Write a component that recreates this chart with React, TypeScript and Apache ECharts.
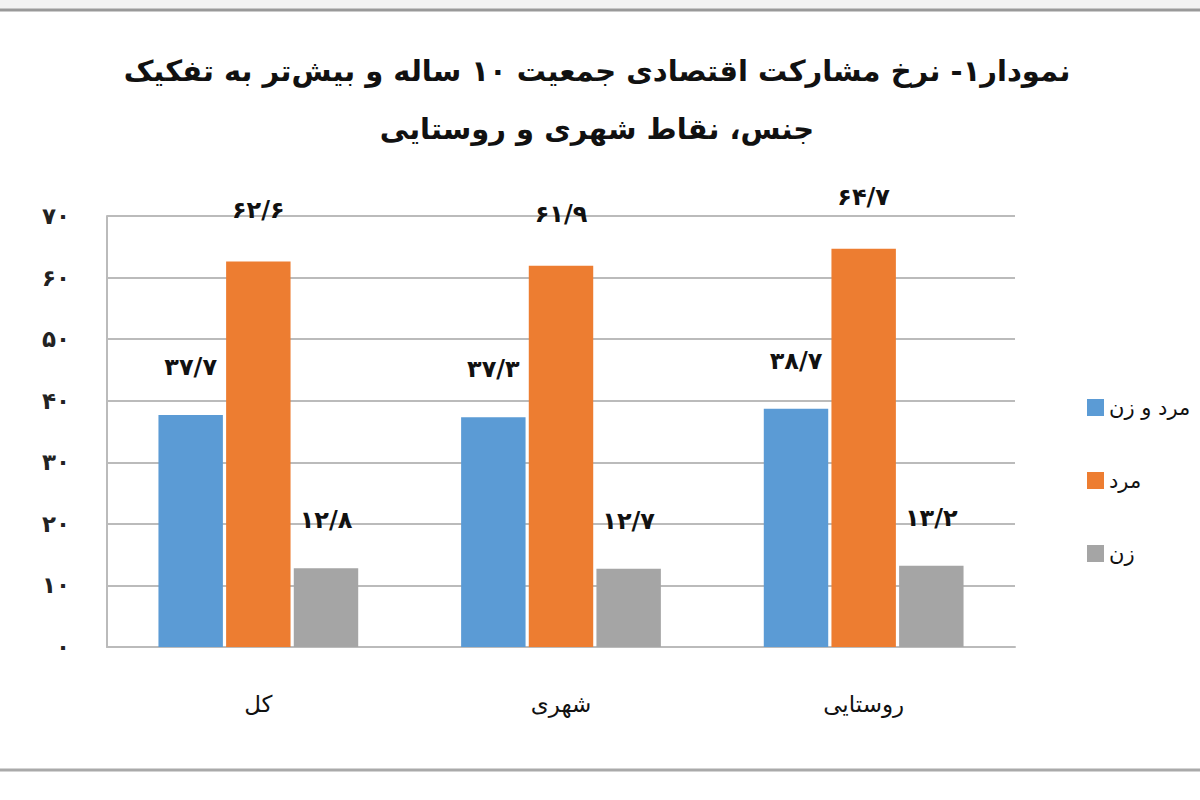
import React, { useEffect, useRef } from "react";
import * as echarts from "echarts";

const titleLines = ["نمودار۱- نرخ مشارکت اقتصادی جمعیت ۱۰ ساله و بیش‌تر به تفکیک", "جنس، نقاط شهری و روستایی"];
const categories = ["کل", "شهری", "روستایی"];
const seriesNames = ["مرد و زن", "مرد", "زن"];
const bothValues = [37.7, 37.3, 38.7];
const menValues = [62.6, 61.9, 64.7];
const womenValues = [12.8, 12.7, 13.2];
const colors = ["#5B9BD5", "#ED7D31", "#A5A5A5"];

const fa = (v: number | string) =>
  String(v).replace(/\./g, "/").replace(/[0-9]/g, (d) => "۰۱۲۳۴۵۶۷۸۹"[Number(d)]);

const FONT = "DejaVu Sans";

export default function App() {
  const ref = useRef<HTMLDivElement>(null);
  useEffect(() => {
    if (!ref.current) return;
    const chart = echarts.init(ref.current, undefined, { renderer: "svg" });
    const label = (dist: number) => ({
      show: true,
      position: "top",
      distance: dist,
      formatter: (p: any) => fa(p.value),
      fontFamily: FONT,
      fontWeight: "bold",
      fontSize: 24,
      color: "#111",
    });
    chart.setOption({
      animation: false,
      backgroundColor: "#fff",
      textStyle: { fontFamily: FONT },
      title: {
        text: titleLines.join("\n"),
        left: 592,
        textAlign: "center",
        top: 37,
        textStyle: { fontFamily: FONT, fontWeight: "bold", fontSize: 29, lineHeight: 58, color: "#111" },
      },
      legend: {
        orient: "vertical",
        left: 1082,
        top: 392,
        itemWidth: 17,
        itemHeight: 17,
        itemGap: 52,
        icon: "rect",
        textStyle: { fontFamily: FONT, fontSize: 21, color: "#111" },
        data: seriesNames,
      },
      grid: { left: 107, right: 185, top: 216, bottom: 153 },
      xAxis: {
        type: "category",
        data: categories,
        axisTick: { show: false },
        axisLine: { lineStyle: { color: "#bbb", width: 2 } },
        axisLabel: { fontFamily: FONT, fontSize: 23, color: "#111", margin: 45 },
      },
      yAxis: {
        type: "value",
        min: 0,
        max: 70,
        interval: 10,
        axisLine: { show: true, lineStyle: { color: "#bbb", width: 2 } },
        splitLine: { lineStyle: { color: "#bbb", width: 2 } },
        axisLabel: {
          formatter: (v: number) => fa(v),
          fontFamily: FONT,
          fontWeight: "bold",
          fontSize: 23,
          color: "#222",
          margin: 37,
        },
      },
      graphic: [
        { type: "rect", shape: { x: 0, y: 0, width: 1200, height: 9 }, style: { fill: "#f2f2f2" } },
        { type: "line", shape: { x1: 0, y1: 10, x2: 1200, y2: 10 }, style: { stroke: "#999", lineWidth: 3 } },
        { type: "line", shape: { x1: 0, y1: 770, x2: 1200, y2: 770 }, style: { stroke: "#aaa", lineWidth: 3 } },
      ],
      series: [
        { name: seriesNames[0], type: "bar", data: bothValues, itemStyle: { color: colors[0] }, barGap: "5%", barCategoryGap: "34%", label: label(36) },
        { name: seriesNames[1], type: "bar", data: menValues, itemStyle: { color: colors[1] }, label: label(40) },
        { name: seriesNames[2], type: "bar", data: womenValues, itemStyle: { color: colors[2] }, label: label(36) },
      ],
    });
    return () => chart.dispose();
  }, []);
  return <div ref={ref} style={{ position: "fixed", left: 0, top: 0, width: 1200, height: 800 }} />;
}
